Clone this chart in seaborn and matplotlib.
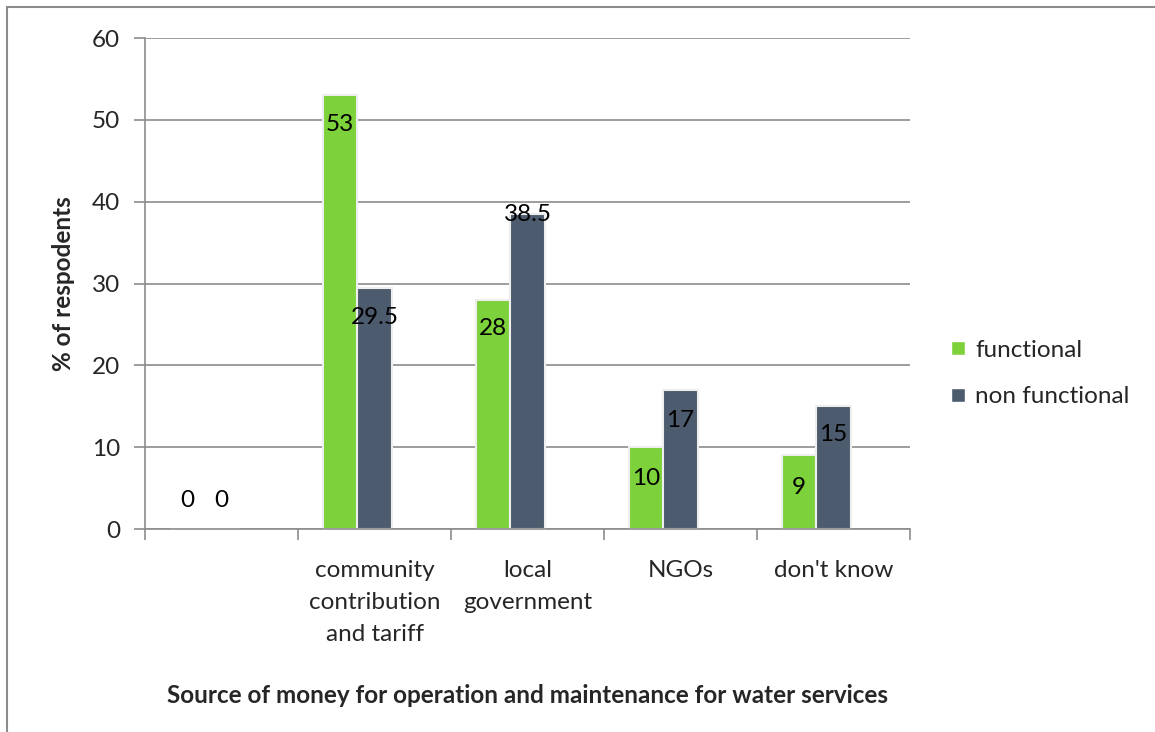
import matplotlib
matplotlib.use("Agg")
import matplotlib.pyplot as plt
import seaborn as sns
import pandas as pd
from matplotlib.patches import Rectangle
from matplotlib.lines import Line2D

categories = ["", "community\ncontribution\nand tariff", "local\ngovernment", "NGOs", "don't know"]
functional = [0, 53, 28, 10, 9]
non_functional = [0, 29.5, 38.5, 17, 15]
series = ["functional", "non functional"]
colors = ["#7DD13B", "#4D5B6E"]
yticks = [0, 10, 20, 30, 40, 50, 60]

df = pd.DataFrame({
    "cat": categories * 2,
    "val": functional + non_functional,
    "series": [series[0]] * len(categories) + [series[1]] * len(categories),
})

sns.set_style("white")
plt.rcParams["font.family"] = ["Lato", "DejaVu Sans"]
FS = 17.5

fig = plt.figure(figsize=(11.55, 7.32), dpi=100)
ax = fig.add_axes([0.1255, 0.2773, 0.788 - 0.1255, 0.948 - 0.2773])

sns.barplot(data=df, x="cat", y="val", hue="series", palette=colors, saturation=1,
            width=0.45, ax=ax, legend=False, edgecolor="#EEEEEE", linewidth=1.5,
            order=categories, hue_order=series)

# Excel draws the groups slightly left of the category centre
shift = -0.113
for p in ax.patches:
    p.set_x(p.get_x() + shift)

ax.set_ylim(0, 60)
ax.set_xlim(-0.5, len(categories) - 0.5)
ax.set_yticks(yticks)
ax.set_yticklabels([str(t) for t in yticks], fontsize=FS)
ax.yaxis.grid(True, color="#8C8C8C", linewidth=1.2)
ax.set_axisbelow(True)
for s in ["top", "right"]:
    ax.spines[s].set_visible(False)
for s in ["left", "bottom"]:
    ax.spines[s].set_color("#8C8C8C")
    ax.spines[s].set_linewidth(1.2)
ax.tick_params(axis="y", length=8, width=1.2, color="#8C8C8C", pad=10, left=True)
ax.set_xticks(range(len(categories)))
ax.set_xticklabels(categories, fontsize=FS, linespacing=1.65)
ax.tick_params(axis="x", which="major", length=0, pad=22)
ax.set_xticks([i - 0.5 for i in range(len(categories) + 1)], minor=True)
ax.tick_params(axis="x", which="minor", length=8, width=1.2, color="#8C8C8C", bottom=True)

ax.set_ylabel("% of respodents", fontsize=FS, fontweight="bold", labelpad=12)
ax.set_xlabel("Source of money for operation and maintenance for water services",
              fontsize=FS, fontweight="bold", labelpad=28)

# data labels
vals = functional + non_functional
label_y = [3.5, 49.4, 24.5, 6.2, 5.1, 3.5, 25.8, 38.4, 13.3, 11.6]
for p, v, ly in zip(ax.patches, vals, label_y):
    x = p.get_x() + p.get_width() / 2
    ax.text(x, ly, f"{v:g}", ha="center", va="center", fontsize=FS, color="black")

handles = [Line2D([0], [0], marker="s", color="w", markerfacecolor=c, markersize=10, linestyle="")
           for c in colors]
fig.legend(handles, series, loc="center left", bbox_to_anchor=(0.8, 0.49),
           frameon=False, fontsize=FS, labelspacing=1.05, handletextpad=0.2, handlelength=1.0)

fig.patches.append(Rectangle((7 / 1155, -0.1), 1.2, 1.1 - 7 / 732,
                             transform=fig.transFigure, fill=False,
                             edgecolor="#8C8C8C", linewidth=1.5))

fig.savefig("out.png", dpi=100)
